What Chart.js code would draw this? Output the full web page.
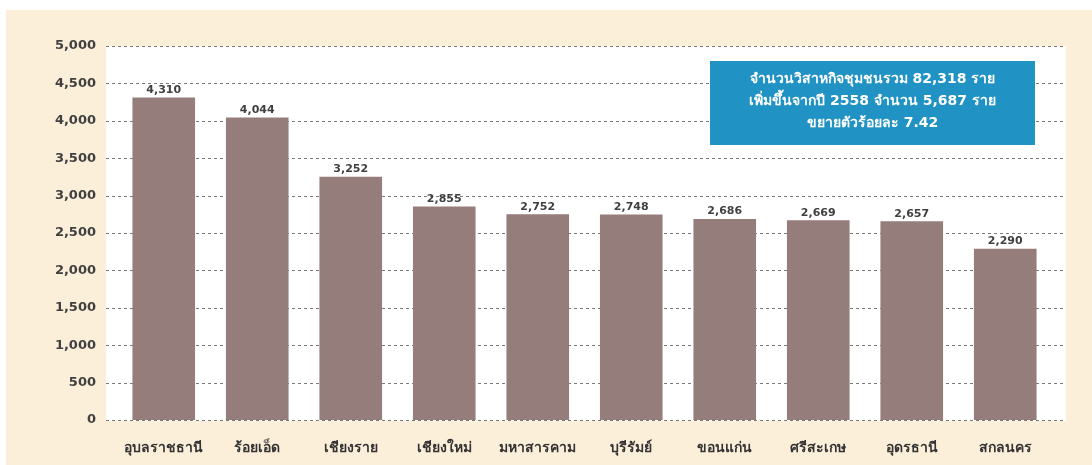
<!DOCTYPE html>
<html>
<head>
<meta charset="utf-8">
<script src="https://cdn.jsdelivr.net/npm/chart.js@4.4.1/dist/chart.umd.min.js"></script>
<style>
  html, body { margin: 0; padding: 0; background: #ffffff; }
  #wrap { width: 1092px; height: 465px; position: relative; }
</style>
</head>
<body>
<div id="wrap"><canvas id="smeChart" width="1092" height="465"></canvas></div>
<script>
const provinces = ["อุบลราชธานี", "ร้อยเอ็ด", "เชียงราย", "เชียงใหม่", "มหาสารคาม", "บุรีรัมย์", "ขอนแก่น", "ศรีสะเกษ", "อุดรธานี", "สกลนคร"];
const enterpriseCounts = [4310, 4044, 3252, 2855, 2752, 2748, 2686, 2669, 2657, 2290];
const summaryLines = [
  "จำนวนวิสาหกิจชุมชนรวม 82,318 ราย",
  "เพิ่มขึ้นจากปี 2558 จำนวน 5,687 ราย",
  "ขยายตัวร้อยละ 7.42"
];

const fontFamily = "'DejaVu Sans', 'Noto Sans', sans-serif";

// cream panel, white plot area, dashed grid lines wider than the bars
const backgroundPlugin = {
  id: "background",
  beforeDraw(chart) {
    const ctx = chart.ctx;
    const y = chart.scales.y;
    ctx.save();
    ctx.fillStyle = "#fcefd9";
    ctx.fillRect(6, 10, chart.width - 6, chart.height - 10);
    const left = 106, right = 1066;
    ctx.fillStyle = "#ffffff";
    ctx.fillRect(left, y.top, right - left, y.bottom - y.top + 1);
    ctx.strokeStyle = "#7a7a7a";
    ctx.lineWidth = 1;
    ctx.setLineDash([3, 3]);
    y.ticks.forEach((t) => {
      const py = Math.round(y.getPixelForValue(t.value)) + 0.5;
      ctx.beginPath();
      ctx.moveTo(left, py);
      ctx.lineTo(right, py);
      ctx.stroke();
    });
    ctx.restore();
  },
  afterDatasetsDraw(chart) {
    const ctx = chart.ctx;
    const meta = chart.getDatasetMeta(0);
    ctx.save();
    ctx.fillStyle = "#404040";
    ctx.font = "bold 11px " + fontFamily;
    ctx.textAlign = "center";
    ctx.textBaseline = "bottom";
    meta.data.forEach((bar, i) => {
      ctx.fillText(enterpriseCounts[i].toLocaleString("en-US"), bar.x, bar.y - 2);
    });

    // summary box
    const bx = 710, by = 61, bw = 325, bh = 84;
    ctx.fillStyle = "#2192c4";
    ctx.fillRect(bx, by, bw, bh);
    ctx.fillStyle = "#ffffff";
    ctx.font = "bold 14px " + fontFamily;
    ctx.textBaseline = "middle";
    summaryLines.forEach((line, i) => {
      ctx.fillText(line, bx + bw / 2, by + 18 + i * 22);
    });
    ctx.restore();
  }
};

const ctx = document.getElementById("smeChart").getContext("2d");
new Chart(ctx, {
  type: "bar",
  data: {
    labels: provinces,
    datasets: [{
      data: enterpriseCounts,
      backgroundColor: "#957d7b",
      categoryPercentage: 1.0,
      barPercentage: 0.67
    }]
  },
  options: {
    responsive: false,
    animation: false,
    layout: { padding: { left: 0, right: 40, top: 46, bottom: 0 } },
    plugins: {
      legend: { display: false },
      tooltip: { enabled: false }
    },
    scales: {
      x: {
        afterFit(scale) { scale.height = 45; },
        grid: { display: false, drawTicks: false },
        border: { display: false },
        ticks: {
          color: "#333333",
          font: { size: 14, weight: "bold", family: fontFamily },
          padding: 20,
          maxRotation: 0
        }
      },
      y: {
        min: 0,
        max: 5000,
        afterFit(scale) { scale.width = 117; },
        grid: { display: false, drawTicks: false },
        border: { display: false },
        ticks: {
          stepSize: 500,
          color: "#404040",
          padding: 21,
          font: { size: 13, weight: "bold", family: fontFamily },
          callback: (v) => v.toLocaleString("en-US")
        }
      }
    }
  },
  plugins: [backgroundPlugin]
});
</script>
</body>
</html>
